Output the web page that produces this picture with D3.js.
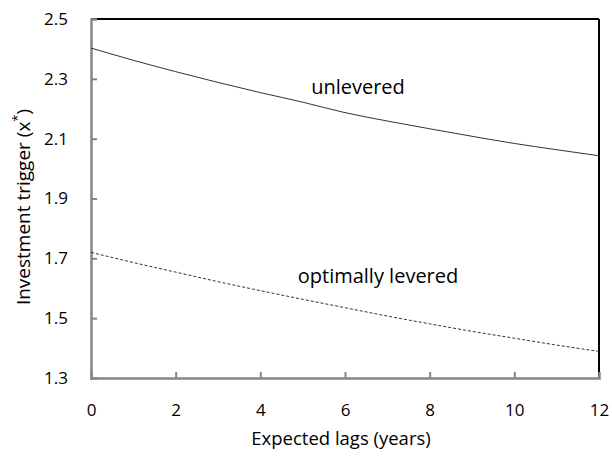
<!DOCTYPE html>
<html><head><meta charset="utf-8">
<script src="https://cdn.jsdelivr.net/npm/d3@7"></script>
<style>body{margin:0;background:#fff}svg{display:block}text{font-family:"Open Sans",sans-serif;fill:#000}</style>
</head><body>
<script>
const lags = [0,1,2,3,4,5,6,7,8,9,10,11,12];
const unlevered = [2.403,2.362,2.324,2.288,2.254,2.222,2.187,2.159,2.133,2.108,2.084,2.063,2.043];
const levered = [1.720,1.686,1.654,1.622,1.592,1.563,1.535,1.507,1.481,1.456,1.433,1.410,1.389];
const xTicks = [0,2,4,6,8,10,12];
const yTicks = [1.3,1.5,1.7,1.9,2.1,2.3,2.5];

const W=612,H=456;
const m={l:91,r:13,t:19,b:78};
const svg=d3.select("body").append("svg").attr("width",W).attr("height",H);
const x=d3.scaleLinear().domain([0,12]).range([m.l,W-m.r]);
const y=d3.scaleLinear().domain([1.3,2.5]).range([H-m.b,m.t]);

svg.append("line").attr("x1",x(0)).attr("x2",x(12)).attr("y1",y(2.5)).attr("y2",y(2.5)).attr("stroke","#000").attr("stroke-width",2);
svg.append("line").attr("x1",x(12)).attr("x2",x(12)).attr("y1",y(2.5)).attr("y2",y(1.3)).attr("stroke","#000").attr("stroke-width",2);

const xa=svg.append("g").attr("transform",`translate(0,${y(1.3)})`)
  .call(d3.axisBottom(x).tickValues(xTicks).tickSize(-6).tickPadding(26).tickFormat(d3.format("d")));
const ya=svg.append("g").attr("transform",`translate(${x(0)},0)`)
  .call(d3.axisLeft(y).tickValues(yTicks).tickSize(-6).tickPadding(23).tickFormat(d3.format(".1f")));
[xa,ya].forEach(a=>{
  a.select(".domain").attr("stroke","#868686").attr("stroke-width",2.5);
  a.selectAll(".tick line").attr("stroke","#868686").attr("stroke-width",2);
  a.selectAll(".tick text").attr("font-size",17).style("font-family","'Open Sans',sans-serif").attr("fill","#000");
});
xa.selectAll(".tick").filter(d=>d===0||d===12).select("line").remove();
ya.selectAll(".tick").filter(d=>d===1.3||d===2.5).select("line").remove();

const line=d3.line().x((d,i)=>x(lags[i])).y(d=>y(d)).curve(d3.curveMonotoneX);
svg.append("path").datum(unlevered).attr("d",line).attr("fill","none").attr("stroke","#333").attr("stroke-width",1);
svg.append("path").datum(levered).attr("d",line).attr("fill","none").attr("stroke","#333").attr("stroke-width",1).attr("stroke-dasharray","3,2");

svg.append("text").attr("x",358).attr("y",94).attr("text-anchor","middle").attr("font-size",20).text("unlevered");
svg.append("text").attr("x",378).attr("y",283).attr("text-anchor","middle").attr("font-size",20).text("optimally levered");

svg.append("text").attr("x",341).attr("y",445).attr("text-anchor","middle").attr("font-size",18.5).text("Expected lags (years)");
const yt=svg.append("text").attr("transform",`translate(30,207) rotate(-90)`).attr("text-anchor","middle").attr("font-size",19);
yt.append("tspan").text("Investment trigger (x");
yt.append("tspan").attr("dy",-8).attr("font-size",13).text("*");
yt.append("tspan").attr("dy",8).text(")");
</script>
</body></html>
